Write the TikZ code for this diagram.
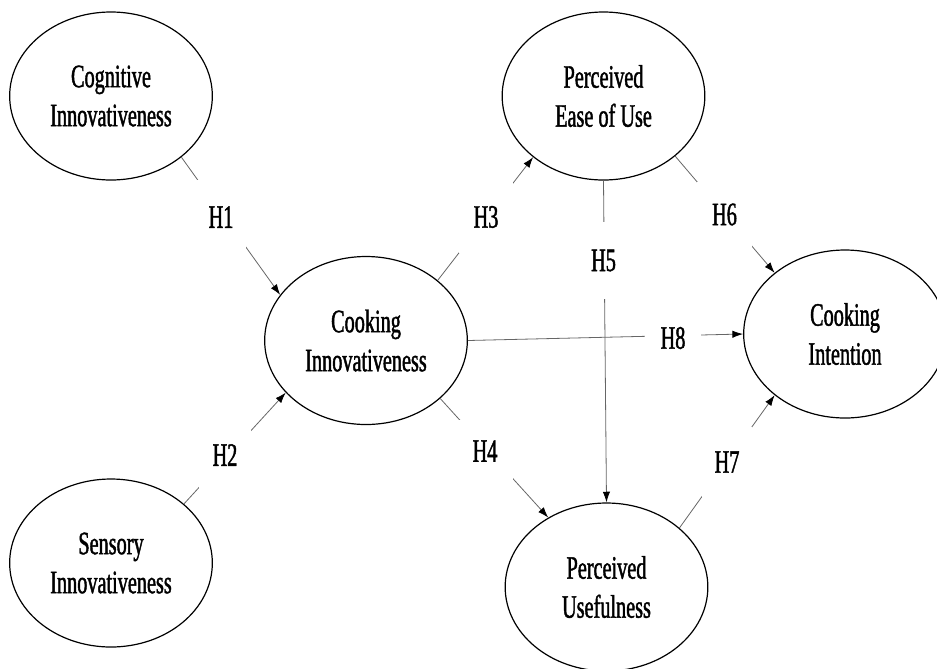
\documentclass[tikz,border=0pt]{standalone}
\usepackage{fontspec}
\setmainfont{Liberation Serif}
\newfontfamily\tnr[FakeStretch=0.62,FakeBold=1.3]{Liberation Serif}
\usetikzlibrary{shapes.geometric,arrows.meta}
\begin{document}
\begin{tikzpicture}[x=0.75pt,y=-0.75pt,
  construct/.style={ellipse, draw, line width=0.9pt, minimum width=152pt, minimum height=126pt, inner sep=0pt, align=center, font=\tnr\fontsize{24.5}{29.25}\selectfont},
  hlabel/.style={fill=white, inner sep=0pt, font=\tnr\fontsize{24.5}{29}\selectfont},
  link/.style={draw=black!60, line width=0.6pt, -{Latex[length=8pt,width=5.5pt,color=black]}}]
\useasboundingbox (0,0) rectangle (937,668);
\node[construct] (cog) at (111,96) {Cognitive\\Innovativeness};
\node[construct] (sen) at (111,563) {Sensory\\Innovativeness};
\node[construct] (cinn) at (366,340.5) {Cooking\\Innovativeness};
\node[construct] (peu) at (603.5,96) {Perceived\\Ease of Use};
\node[construct] (ci) at (845,334) {Cooking\\Intention};
\node[construct] (pu) at (606.5,587) {Perceived\\Usefulness};
% connectors
\draw[link] (cog.-41.3) -- (cinn.152.7);
\draw[link] (sen.39) -- (cinn.213.8);
\draw[link] (cinn.40.2) -- (peu.-139.9);
\draw[link] (cinn.-38.4) -- (pu.130.3);
\draw[link] (peu.south) -- (pu.north);
\draw[link] (peu.-40.5) -- (ci.139.9);
\draw[link] (pu.39.1) -- (ci.-139.3);
\draw[link] (cinn.east) -- (ci.west);
% labels
\node[hlabel, minimum width=37pt, minimum height=55pt] (h1) at (221,217) {H1};
\node[hlabel, minimum width=39pt, minimum height=55pt] (h2) at (225,455) {H2};
\node[hlabel, minimum width=41pt, minimum height=54pt] (h3) at (486,217) {H3};
\node[hlabel, minimum width=42pt, minimum height=46pt] (h4) at (485,451) {H4};
\node[hlabel, minimum width=41pt, minimum height=58pt] (h5) at (603.5,260.5) {H5};
\node[hlabel, minimum width=41pt, minimum height=49pt] (h6) at (724.5,214.5) {H6};
\node[hlabel, minimum width=38pt, minimum height=52pt] (h7) at (727,462) {H7};
\node[hlabel, minimum width=42pt, minimum height=22pt] (h8) at (673,338) {H8};
\end{tikzpicture}
\end{document}
